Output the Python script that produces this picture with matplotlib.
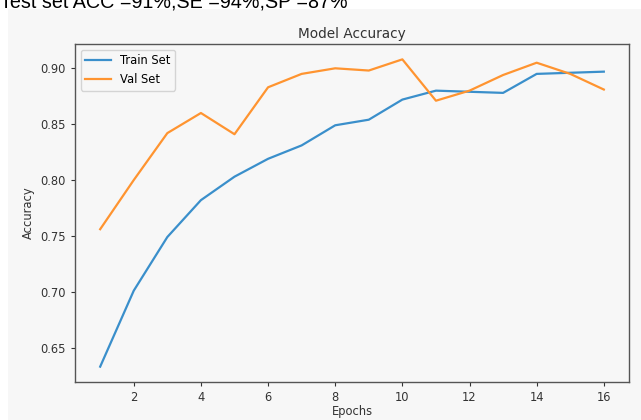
import matplotlib
matplotlib.use('Agg')
import matplotlib.pyplot as plt
from matplotlib.patches import Rectangle

# ── Data ──────────────────────────────────────────────────────────────────────
epochs = list(range(1, 17))
train_acc = [0.633, 0.701, 0.749, 0.782, 0.803, 0.819, 0.831, 0.849,
             0.854, 0.872, 0.880, 0.879, 0.878, 0.895, 0.896, 0.897]
val_acc = [0.756, 0.800, 0.842, 0.860, 0.841, 0.883, 0.895, 0.900,
           0.898, 0.908, 0.871, 0.880, 0.894, 0.905, 0.895, 0.881]
header = 'Test set ACC =91%,SE =94%,SP =87%'

BG = '#f7f7f7'
TXT = '#333333'

fig = plt.figure(figsize=(6.41, 4.20), dpi=100)
fig.patch.set_facecolor('white')

# grey screenshot panel behind the plot
fig.patches.append(Rectangle((8 / 641, 0), 1 - 8 / 641, 1 - 9 / 420,
                             transform=fig.transFigure, facecolor=BG,
                             edgecolor='none', zorder=-10))

fig.text(0.0, 1 - 8 / 420, header, fontsize=14.2, family='Liberation Sans',
         color='black', va='baseline', ha='left')

ax = fig.add_axes([75 / 641, 1 - 382 / 420, (629 - 75) / 641, (382 - 44) / 420])
ax.set_facecolor(BG)
ax.plot(epochs, train_acc, color='#3a8fcb', linewidth=1.6, label='Train Set')
ax.plot(epochs, val_acc, color='#ff9430', linewidth=1.6, label='Val Set')

ax.set_xticks([2, 4, 6, 8, 10, 12, 14, 16])
ax.set_yticks([0.65, 0.70, 0.75, 0.80, 0.85, 0.90])
ax.yaxis.set_major_formatter(matplotlib.ticker.FormatStrFormatter('%.2f'))
ax.tick_params(labelsize=8.3, colors=TXT, length=3)

for s in ax.spines.values():
    s.set_color('#555555')
    s.set_linewidth(1.0)

ax.set_title('Model Accuracy', fontsize=9.8, color=TXT, pad=4)
ax.set_xlabel('Epochs', fontsize=8.3, color=TXT, labelpad=1)
ax.set_ylabel('Accuracy', fontsize=8.3, color=TXT, labelpad=4)

leg = ax.legend(loc='upper left', fontsize=8.3, frameon=True, facecolor=BG,
                edgecolor='#cccccc', handlelength=2.2)

plt.savefig('out.png', dpi=100, facecolor=fig.get_facecolor())
